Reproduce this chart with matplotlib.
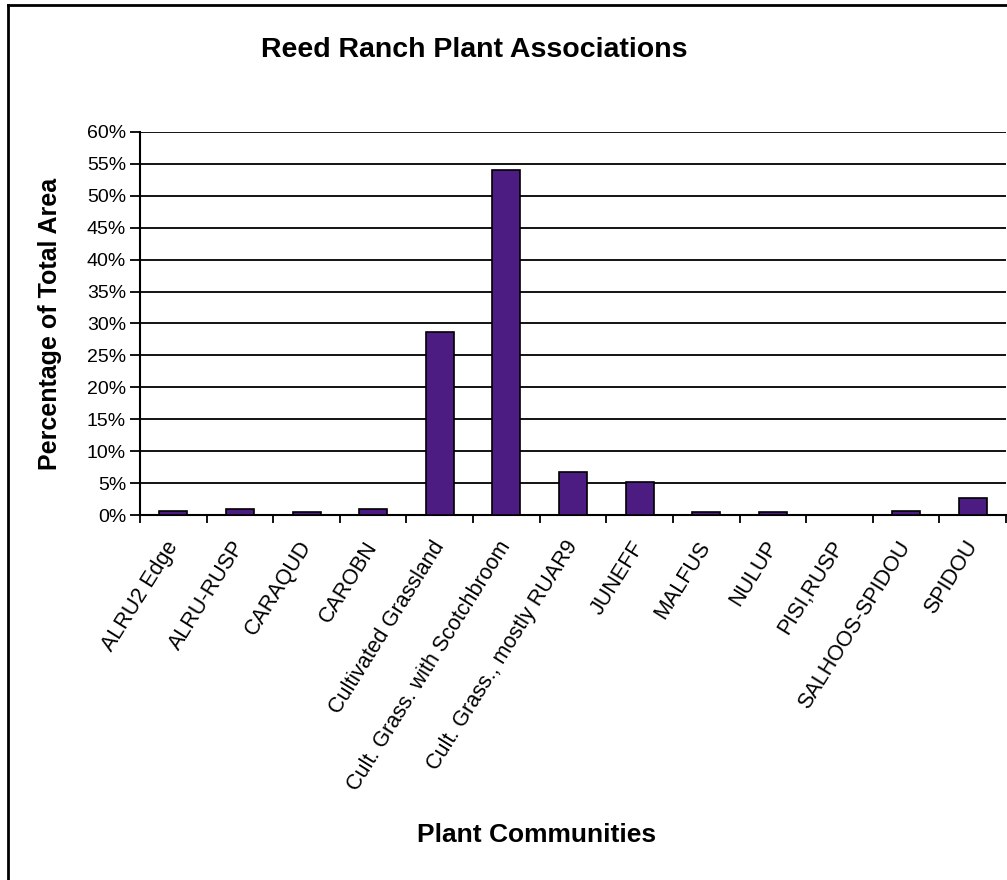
import matplotlib
matplotlib.use("Agg")
import matplotlib.pyplot as plt
from matplotlib.ticker import MultipleLocator, FuncFormatter
from matplotlib.lines import Line2D

communities = [
    "ALRU2 Edge", "ALRU-RUSP", "CARAQUD", "CAROBN", "Cultivated Grassland",
    "Cult. Grass. with Scotchbroom", "Cult. Grass., mostly RUAR9", "JUNEFF",
    "MALFUS", "NULUP", "PISI,RUSP", "SALHOOS-SPIDOU", "SPIDOU",
]
pct_area = [0.7, 0.9, 0.5, 0.9, 28.6, 54.0, 6.8, 5.1, 0.4, 0.4, 0.0, 0.7, 2.7]

plt.rcParams["font.family"] = ["Liberation Sans", "DejaVu Sans"]

fig = plt.figure(figsize=(10.07, 8.8), dpi=100)
ax = fig.add_axes([140 / 1007, 1 - 515 / 880, 866 / 1007, 383 / 880])

x = list(range(len(communities)))
ax.bar(x, pct_area, width=0.42, color="#4C1C82", edgecolor="black",
       linewidth=1.2, zorder=3)

ax.set_xlim(-0.5, len(communities) - 0.5)
ax.set_ylim(0, 60)
ax.yaxis.set_major_locator(MultipleLocator(5))
ax.yaxis.set_major_formatter(FuncFormatter(lambda v, p: f"{v:.0f}%"))
ax.grid(axis="y", color="black", linewidth=1.3, zorder=1)

# category ticks at boundaries, labels at centres
ax.set_xticks([i - 0.5 for i in range(len(communities) + 1)])
ax.set_xticklabels([])
ax.set_xticks(x, minor=True)
ax.set_xticklabels(communities, minor=True, rotation=58, ha="right",
                   va="center", rotation_mode="anchor", fontsize=15.5)
ax.tick_params(axis="x", which="minor", length=0, pad=20)
ax.tick_params(axis="x", which="major", length=6, width=1.3, direction="out")
ax.tick_params(axis="y", length=7, width=1.3, labelsize=14, pad=3)

for side in ["top", "right"]:
    ax.spines[side].set_visible(False)
for side in ["left", "bottom"]:
    ax.spines[side].set_linewidth(1.5)

fig.text(474 / 1007, 1 - 50 / 880, "Reed Ranch Plant Associations",
         ha="center", va="center", fontsize=20.5, fontweight="bold")
fig.text(537 / 1007, 1 - 835 / 880, "Plant Communities",
         ha="center", va="center", fontsize=19, fontweight="bold")
fig.text(50 / 1007, 1 - 324 / 880, "Percentage of Total Area",
         ha="center", va="center", rotation=90, fontsize=18, fontweight="bold")

# outer chart frame
fig.add_artist(Line2D([8 / 1007, 8 / 1007], [0, 1 - 5 / 880],
                      transform=fig.transFigure, color="black", linewidth=2))
fig.add_artist(Line2D([8 / 1007, 1], [1 - 5 / 880, 1 - 5 / 880],
                      transform=fig.transFigure, color="black", linewidth=2))

fig.savefig("out.png", dpi=100)
